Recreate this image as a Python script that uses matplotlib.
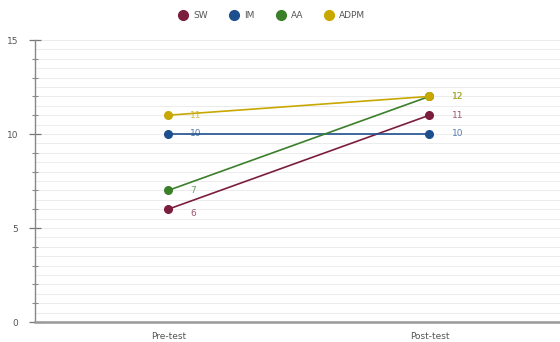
import matplotlib.pyplot as plt
from matplotlib.lines import Line2D
import numpy as np

categories = ["Pre-test", "Post-test"]
series_names = ["SW", "IM", "AA", "ADPM"]
sw = [6, 11]
im = [10, 10]
aa = [7, 12]
adpm = [11, 12]
colors = ["#7b1e3e", "#1d4f8f", "#3b7f2a", "#c8a800"]

fig = plt.figure(figsize=(5.6, 3.42), dpi=100)
ax = fig.add_axes([35 / 560, 1 - 322 / 342, 525 / 560, 282 / 342])

x = np.arange(len(categories))
all_series = [sw, im, aa, adpm]
for name, vals, c in zip(series_names, all_series, colors):
    ax.plot(x, vals, color=c, lw=1.2, marker="o", ms=5.5, zorder=3)

# value labels beside each point
for vals, c in zip(all_series, colors):
    for xi, v in zip(x, vals):
        dy = -3 if v == 6 else 0
        ax.annotate(str(v), (xi, v), xytext=(16, dy), textcoords="offset points",
                    ha="left", va="center", fontsize=6.5, color=c, alpha=0.75, zorder=4)

ax.set_xlim(-0.51, 1.5)
ax.set_ylim(0, 15)
ax.set_xticks(x)
ax.set_xticklabels(categories, fontsize=6.5, color="#555555")
ax.set_yticks([0, 5, 10, 15])
ax.set_yticks(np.arange(0, 15.1, 1), minor=True)
ax.tick_params(axis="y", which="major", direction="inout", length=8, width=0.9,
               colors="#777777", labelsize=6.5, labelcolor="#555555", pad=8)
ax.tick_params(axis="y", which="minor", direction="inout", length=5, width=0.8,
               colors="#888888")
ax.tick_params(axis="x", length=0, pad=7)

for yv in np.arange(0.5, 15.01, 0.5):
    ax.axhline(yv, color="#ececec", lw=0.7, zorder=0)

for s in ["top", "right"]:
    ax.spines[s].set_visible(False)
ax.spines["left"].set_color("#888888")
ax.spines["left"].set_linewidth(1.0)
ax.spines["bottom"].set_color("#999999")
ax.spines["bottom"].set_linewidth(1.8)

handles = [Line2D([], [], marker="o", ls="none", color=c, ms=7) for c in colors]
leg = fig.legend(handles, series_names, loc="center", bbox_to_anchor=(272 / 560, 1 - 16 / 342),
                 ncol=4, frameon=False, fontsize=6.5, handletextpad=0.6, columnspacing=2.4,
                 handlelength=1.0)
for t in leg.get_texts():
    t.set_color("#555555")

fig.savefig("out.png", dpi=100)
